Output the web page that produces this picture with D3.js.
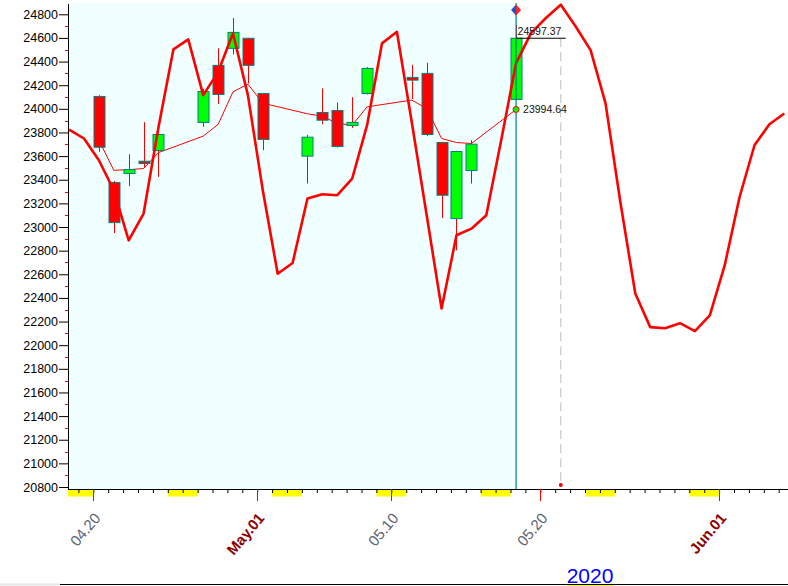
<!DOCTYPE html>
<html><head><meta charset="utf-8">
<script src="https://cdn.jsdelivr.net/npm/d3@7"></script>
<style>
body{margin:0;background:#fff;}
svg{display:block;font-family:"Liberation Sans",Arial,sans-serif;}
</style>
</head><body>
<svg id="c" width="788" height="586"></svg>
<script>
// ---------- data ----------
const candleDates = ["2020-04-20","2020-04-21","2020-04-22","2020-04-23","2020-04-24",
  "2020-04-27","2020-04-28","2020-04-29","2020-04-30","2020-05-01",
  "2020-05-04","2020-05-05","2020-05-06","2020-05-07","2020-05-08",
  "2020-05-11","2020-05-12","2020-05-13","2020-05-14","2020-05-15","2020-05-18"];
const openV  = [24105,23376,23453,23557,23647, 23885,24368,24512,24597,24130, 23600,23969,23986,23859,24130, 24266,24300,23715,23071,23478,24080];
const highV  = [24116,23390,23616,23887,23790, 24170,24512,24769,24600,24135, 23780,24173,24054,24099,24353, 24373,24390,23720,23645,23735,24709];
const lowV   = [23636,22949,23347,23500,23424, 23847,24042,24461,24215,23650, 23368,23870,23673,23839,24122, 24082,23769,23076,22803,23368,24080];
const closeV = [23675,23037,23486,23537,23783, 24147,24122,24647,24368,23741, 23760,23904,23681,23885,24342, 24243,23783,23269,23639,23701,24597.37];
const maV    = [23735,23480,23485,23495,23630, 23769,23868,24144,24209,24048, 23958,23938,23876,23862,24017, 24074,24003,23749,23715,23707,23994.64];

// forecast curve, one value per calendar day starting 2020-04-18
const curveStart = "2020-04-18";
const curveV = [23825,23749,23565,23311,22887,23114,23845,24503,24588,24116,
  24311,24639,24116,23311,22605,22695,23241,23277,23269,23410,
  23862,24554,24652,23887,23099,22311,22930,22986,23099,23735,
  24387,24641,24769,24881,24697,24497,24048,23209,22438,22153,
  22144,22186,22119,22252,22675,23254,23692,23870,23961];

const yTicks = d3.range(20800, 24801, 200);
const yMinor = d3.range(20900, 24800, 200);
const labelDates = ["2020-04-20","2020-05-01","2020-05-10","2020-05-20","2020-06-01"];
const labelTexts = ["04.20","May.01","05.10","05.20","Jun.01"];
const labelBold  = [false,true,false,false,true];
const weekendStarts = ["2020-04-18","2020-04-25","2020-05-02","2020-05-09","2020-05-16","2020-05-23","2020-05-30"];
const peakDate = "2020-05-21";
const yearLabel = "2020";

// ---------- layout ----------
const svg = d3.select("#c");
const L = 68, R = 788, T = 3, B = 489;
const parse = s => new Date(s + "T00:00:00Z");
const x = d3.scaleUtc().domain([parse("2020-04-20"), parse("2020-06-01")]).range([93.3, 719.1]);
const y = d3.scaleLinear().domain([20800, 24800]).range([487, 14.3]);
const HOUR = 3600e3;
const px = s => x(new Date(parse(s).getTime() + 9 * HOUR));
const dayW = x(parse("2020-04-21")) - x(parse("2020-04-20"));

const lastX = px(candleDates[candleDates.length - 1]);

svg.append("defs").append("clipPath").attr("id", "clip")
  .append("rect").attr("x", L).attr("y", T).attr("width", R - L).attr("height", B - T);

// background
svg.append("rect").attr("x", L).attr("y", T).attr("width", lastX - L).attr("height", B - T).attr("fill", "#F0FFFF");

// weekends
svg.append("g").selectAll("rect").data(weekendStarts).join("rect")
  .attr("x", d => Math.max(L, x(parse(d))))
  .attr("width", d => x(d3.utcDay.offset(parse(d), 2)) - Math.max(L, x(parse(d))))
  .attr("y", B).attr("height", 7.5).attr("fill", "#FFFF00");

// moving average (thin)
const plot = svg.append("g").attr("clip-path", "url(#clip)");
plot.append("path")
  .attr("d", d3.line().x((d, i) => px(candleDates[i])).y(d => y(d))(maV))
  .attr("fill", "none").attr("stroke", "#FF0000").attr("stroke-width", 1);

// candles
const bw = Math.round(dayW * 0.74);
const cg = plot.append("g");
candleDates.forEach((d, i) => {
  const cx = Math.round(px(d)) + 0.5;
  cg.append("line").attr("x1", cx).attr("x2", cx).attr("y1", y(highV[i])).attr("y2", y(lowV[i]))
    .attr("stroke", "#FF0000").attr("stroke-width", 1);
  const top = y(Math.max(openV[i], closeV[i])), bot = y(Math.min(openV[i], closeV[i]));
  cg.append("rect").attr("x", cx - bw / 2).attr("width", bw)
    .attr("y", top).attr("height", Math.max(2, bot - top))
    .attr("fill", closeV[i] >= openV[i] ? "#00FF00" : "#FF0000")
    .attr("stroke", "#008080").attr("stroke-width", 1);
});

// forecast curve (thick)
const curveDates = curveV.map((v, i) => d3.utcDay.offset(parse(curveStart), i));
plot.append("path")
  .attr("d", d3.line().x((d, i) => x(new Date(curveDates[i].getTime() + 9 * HOUR))).y(d => y(d))(curveV))
  .attr("fill", "none").attr("stroke", "#FF0000").attr("stroke-width", 2.6).attr("stroke-linejoin", "round");

// current-day vertical line
svg.append("line").attr("x1", lastX).attr("x2", lastX).attr("y1", T).attr("y2", B)
  .attr("stroke", "#008080").attr("stroke-width", 1.2);

// forecast peak dashed line
const peakX = px(peakDate);
svg.append("line").attr("x1", peakX).attr("x2", peakX).attr("y1", y(closeV[closeV.length - 1])).attr("y2", B - 2)
  .attr("stroke", "#BDBDBD").attr("stroke-width", 1).attr("stroke-dasharray", "9,5");
svg.append("circle").attr("cx", peakX).attr("cy", B - 4).attr("r", 2).attr("fill", "#FF0000");

// close line + label
const lc = closeV[closeV.length - 1];
svg.append("line").attr("x1", lastX).attr("x2", peakX + 5).attr("y1", y(lc)).attr("y2", y(lc))
  .attr("stroke", "#000").attr("stroke-width", 1);
svg.append("text").attr("x", lastX + 1.5).attr("y", y(lc) - 3).attr("font-size", 10.5).attr("fill", "#111")
  .text(d3.format(".2f")(lc));

// MA dot + label
const lm = maV[maV.length - 1];
svg.append("circle").attr("cx", lastX).attr("cy", y(lm)).attr("r", 3).attr("fill", "#00FF00").attr("stroke", "#FF0000").attr("stroke-width", 1);
svg.append("text").attr("x", lastX + 7).attr("y", y(lm) + 4).attr("font-size", 10.5).attr("fill", "#111")
  .text(d3.format(".2f")(lm));

// diamond marker
const dg = svg.append("g").attr("transform", `translate(${lastX},10)`);
dg.append("path").attr("d", "M0,-5.5L-5,0L0,5.5Z").attr("fill", "#1F4FD0");
dg.append("path").attr("d", "M0,-5.5L5,0L0,5.5Z").attr("fill", "#FF2020");

// ---------- Y axis ----------
const ya = svg.append("g").attr("transform", `translate(${L},0)`)
  .call(d3.axisLeft(y).tickValues(yTicks).tickSize(9).tickPadding(1).tickFormat(d3.format("d")));
ya.select(".domain").remove();
ya.selectAll(".tick line").attr("stroke", "#000");
ya.selectAll(".tick text").attr("font-size", 12.5).attr("fill", "#000").attr("font-family", "Liberation Sans, Arial, sans-serif");
svg.append("g").selectAll("line").data(yMinor).join("line")
  .attr("x1", L - 3).attr("x2", L).attr("y1", d => Math.round(y(d)) + 0.5).attr("y2", d => Math.round(y(d)) + 0.5)
  .attr("stroke", "#FF0000");
svg.append("line").attr("x1", L + 0.5).attr("x2", L + 0.5).attr("y1", T + 1).attr("y2", B).attr("stroke", "#000");

// ---------- X axis ----------
const dayTicks = d3.utcDay.range(parse("2020-04-19"), parse("2020-06-07")).filter(d => x(d) >= L && x(d) <= R);
const xa = svg.append("g").attr("transform", `translate(0,${B})`)
  .call(d3.axisBottom(x).tickValues(dayTicks).tickSize(4).tickFormat(""));
xa.select(".domain").remove();
xa.selectAll(".tick line").attr("stroke", "#000");
svg.append("line").attr("x1", L).attr("x2", R).attr("y1", B + 0.5).attr("y2", B + 0.5).attr("stroke", "#000");
svg.append("g").selectAll("line").data(labelDates).join("line")
  .attr("x1", d => Math.round(x(parse(d))) + 0.5).attr("x2", d => Math.round(x(parse(d))) + 0.5)
  .attr("y1", B).attr("y2", B + 12).attr("stroke", "#FF0000");
svg.append("g").selectAll("text").data(labelDates).join("text")
  .attr("transform", d => `translate(${x(parse(d)) + 8},518.5) rotate(-50)`)
  .attr("text-anchor", "end").attr("font-size", 15)
  .attr("font-weight", (d, i) => labelBold[i] ? "bold" : "normal")
  .attr("fill", (d, i) => labelBold[i] ? "#8B0000" : "#5A6270")
  .text((d, i) => labelTexts[i]);

// bottom line and year label
svg.append("line").attr("x1", 0).attr("x2", 60).attr("y1", 584.5).attr("y2", 584.5).attr("stroke", "#E6E6E6").attr("stroke-width", 2);
svg.append("line").attr("x1", 60).attr("x2", 788).attr("y1", 584.5).attr("y2", 584.5).attr("stroke", "#000");
svg.append("rect").attr("x", 567).attr("y", 585).attr("width", 46).attr("height", 1).attr("fill", "#FFFF00");
svg.append("text").attr("x", 590).attr("y", 583).attr("text-anchor", "middle").attr("font-size", 21).attr("fill", "#0000FF").text(yearLabel);
</script>
</body></html>
